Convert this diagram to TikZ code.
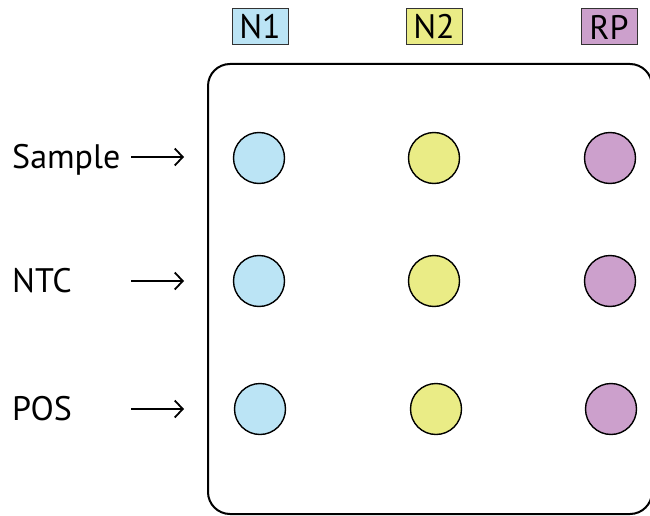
\documentclass[tikz,border=0pt]{standalone}
\usepackage{fontspec}
\setmainfont{PT Sans}
\usetikzlibrary{arrows.meta}
\definecolor{cblue}{RGB}{187,228,245}
\definecolor{cyellow}{RGB}{234,236,134}
\definecolor{cpurple}{RGB}{204,160,204}
\tikzset{
  well/.style={circle, draw=black, line width=1.4pt, minimum size=51pt, inner sep=0pt},
  tag/.style={draw=black!80, line width=1pt, inner sep=0pt, minimum width=56pt, minimum height=36pt, font=\fontsize{34}{34}\selectfont},
  rowlabel/.style={anchor=base west, inner sep=0pt, font=\fontsize{34}{34}\selectfont},
  feed/.style={-{Straight Barb[length=8pt,width=17pt]}, line width=1.8pt}
}
\begin{document}
\begin{tikzpicture}[x=1pt,y=-1pt]
\useasboundingbox (0,0) rectangle (650,516);
% column tags
\node[tag, fill=cblue]   (tN1) at (260,27) {N1};
\node[tag, fill=cyellow] (tN2) at (434,27) {N2};
\node[tag, fill=cpurple] (tRP) at (609,27) {RP};
% plate outline (runs past the right edge)
\begin{scope}
\clip (0,0) rectangle (650,516);
\draw[line width=2pt, rounded corners=22pt] (208,64) rectangle (652,514);
\end{scope}
% wells
\node[well, fill=cblue]   (a1) at (259,158) {};
\node[well, fill=cyellow] (b1) at (434,158) {};
\node[well, fill=cpurple] (c1) at (610,158) {};
\node[well, fill=cblue]   (a2) at (259,281) {};
\node[well, fill=cyellow] (b2) at (434,281) {};
\node[well, fill=cpurple] (c2) at (610,281) {};
\node[well, fill=cblue]   (a3) at (260,409) {};
\node[well, fill=cyellow] (b3) at (436,409) {};
\node[well, fill=cpurple] (c3) at (611,409) {};
% row labels
\node[rowlabel] (ls) at (12,168) {Sample};
\node[rowlabel] (ln) at (12,292) {NTC};
\node[rowlabel] (lp) at (12,420) {POS};
\coordinate (s0) at (131,157); \coordinate (s1) at (184,157);
\coordinate (n0) at (131,281); \coordinate (n1) at (184,281);
\coordinate (p0) at (131,409); \coordinate (p1) at (184,409);
\draw[feed] (s0) -- (s1);
\draw[feed] (n0) -- (n1);
\draw[feed] (p0) -- (p1);
\end{tikzpicture}
\end{document}
